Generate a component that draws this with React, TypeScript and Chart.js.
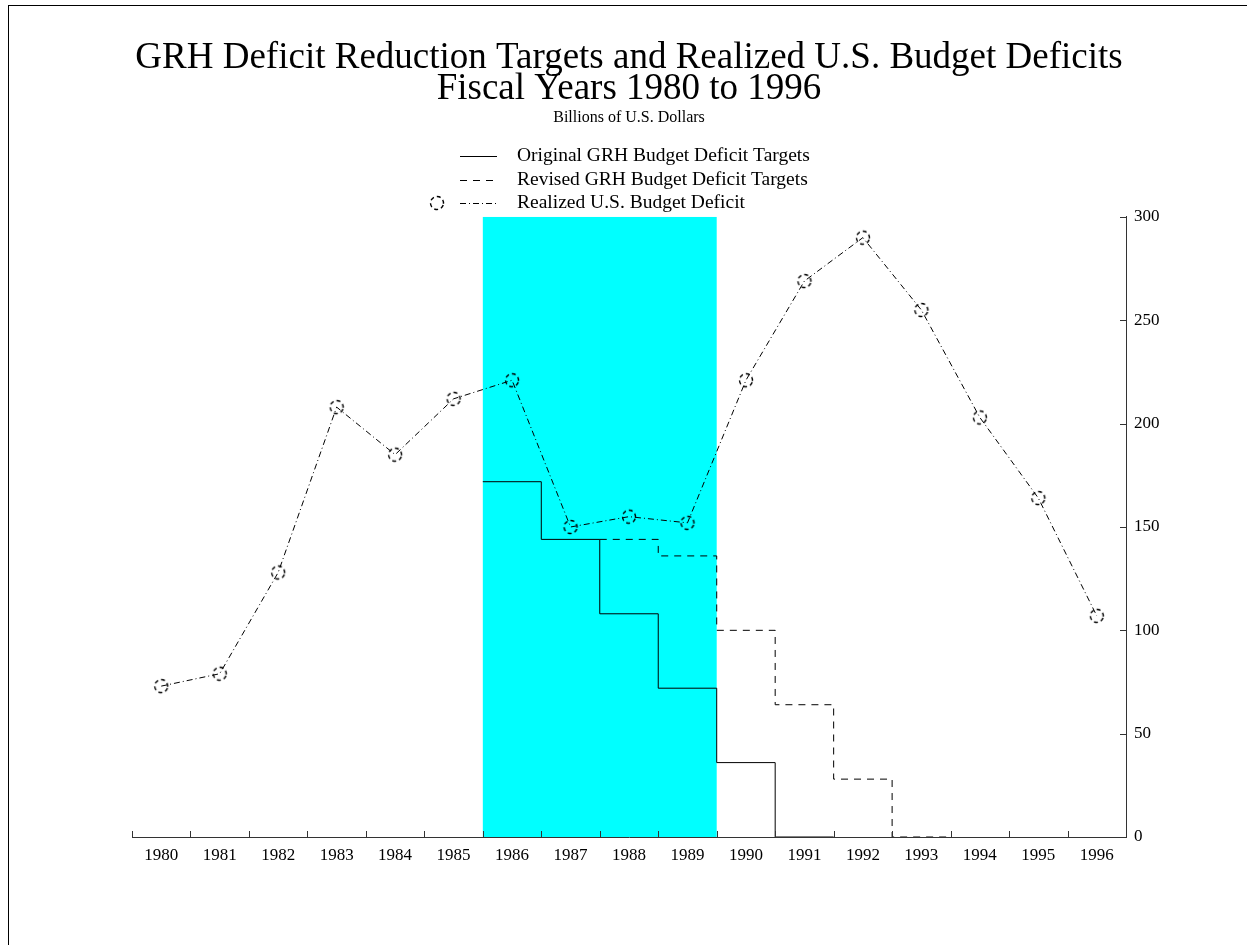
import React, { useEffect, useRef } from "react";
import { Chart, registerables } from "chart.js";

Chart.register(...registerables);

const years = ["1980", "1981", "1982", "1983", "1984", "1985", "1986", "1987", "1988", "1989", "1990", "1991", "1992", "1993", "1994", "1995", "1996"];
const realizedDeficit = [73, 79, 128, 208, 185, 212, 221, 150, 155, 152, 221, 269, 290, 255, 203, 164, 107];

const originalTargetYears = ["1986", "1987", "1988", "1989", "1990", "1991"];
const originalTargets = [171.9, 144, 108, 72, 36, 0];

const revisedTargetYears = ["1988", "1989", "1990", "1991", "1992", "1993"];
const revisedTargets = [144, 136, 100, 64, 28, 0];

const shadedYears = ["1986", "1989"];

const yTicks = [0, 50, 100, 150, 200, 250, 300];

const titleLines = ["GRH Deficit Reduction Targets and Realized U.S. Budget Deficits", "Fiscal Years 1980 to 1996"];
const subtitleText = "Billions of U.S. Dollars";
const seriesLabels = ["Original GRH Budget Deficit Targets", "Revised GRH Budget Deficit Targets", "Realized U.S. Budget Deficit"];

const SERIF = "'Liberation Serif', 'Times New Roman', serif";
const DASH_REVISED = [7, 6];
const DASH_REALIZED = [6, 3, 1, 3];

function stepPoints(ys: string[], vals: number[]) {
  const pts = ys.map((yr, i) => ({ x: years.indexOf(yr) - 0.5, y: vals[i] }));
  const last = ys.length - 1;
  pts.push({ x: years.indexOf(ys[last]) + 0.5, y: vals[last] });
  return pts;
}

function makeMarker(): HTMLCanvasElement {
  const c = document.createElement("canvas");
  c.width = 18;
  c.height = 18;
  const g = c.getContext("2d")!;
  g.strokeStyle = "#000";
  g.lineWidth = 1.4;
  g.setLineDash([4, 3]);
  g.beginPath();
  g.arc(9, 9, 6.5, 0.3, Math.PI * 2 + 0.3);
  g.stroke();
  return c;
}

export default function App() {
  const ref = useRef<HTMLCanvasElement | null>(null);

  useEffect(() => {
    const canvas = ref.current;
    if (!canvas) return;
    const marker = makeMarker();

    const shadePlugin = {
      id: "shade",
      beforeDatasetsDraw(chart: any) {
        const xs = chart.scales.xs;
        const y = chart.scales.y;
        const ctx = chart.ctx;
        const x0 = xs.getPixelForValue(years.indexOf(shadedYears[0]) - 0.5);
        const x1 = xs.getPixelForValue(years.indexOf(shadedYears[1]) + 0.5);
        const yTop = y.getPixelForValue(y.max);
        const yBot = y.getPixelForValue(y.min);
        ctx.save();
        ctx.fillStyle = "#00ffff";
        ctx.fillRect(x0, yTop, x1 - x0, yBot - yTop);
        ctx.restore();
      },
    };

    const innerTicksPlugin = {
      id: "innerTicks",
      afterDraw(chart: any) {
        const xs = chart.scales.xs;
        const y = chart.scales.y;
        const ctx = chart.ctx;
        const area = chart.chartArea;
        ctx.save();
        ctx.strokeStyle = "#333";
        ctx.lineWidth = 1;
        for (let k = 0; k <= years.length; k++) {
          const px = Math.round(xs.getPixelForValue(k - 0.5)) + 0.5;
          ctx.beginPath();
          ctx.moveTo(px, area.bottom);
          ctx.lineTo(px, area.bottom - 6);
          ctx.stroke();
        }
        yTicks.forEach((v) => {
          const py = Math.round(y.getPixelForValue(v)) + 0.5;
          ctx.beginPath();
          ctx.moveTo(area.right, py);
          ctx.lineTo(area.right - 6, py);
          ctx.stroke();
        });
        ctx.restore();
      },
    };

    const legendPlugin = {
      id: "customLegend",
      afterDraw(chart: any) {
        const ctx = chart.ctx;
        const lx0 = 460;
        const lx1 = 497;
        const tx = 517;
        const rows = [156, 180, 203];
        const dashes = [[], DASH_REVISED, DASH_REALIZED];
        ctx.save();
        ctx.font = `19.5px ${SERIF}`;
        ctx.fillStyle = "#000";
        ctx.textBaseline = "middle";
        ctx.textAlign = "left";
        rows.forEach((ry, i) => {
          ctx.strokeStyle = "#000";
          ctx.lineWidth = 1;
          ctx.setLineDash(dashes[i]);
          ctx.beginPath();
          ctx.moveTo(lx0, ry + 0.5);
          ctx.lineTo(lx1, ry + 0.5);
          ctx.stroke();
          ctx.setLineDash([]);
          ctx.fillText(seriesLabels[i], tx, ry);
        });
        ctx.drawImage(marker, 437 - 9, rows[2] - 9);
        ctx.restore();
      },
    };

    const chart = new Chart(canvas, {
      type: "line",
      data: {
        labels: years,
        datasets: [
          {
            label: seriesLabels[0],
            data: stepPoints(originalTargetYears, originalTargets) as any,
            xAxisID: "xs",
            yAxisID: "y",
            stepped: "before",
            borderColor: "#000",
            borderWidth: 1,
            pointRadius: 0,
            fill: false,
          },
          {
            label: seriesLabels[1],
            data: stepPoints(revisedTargetYears, revisedTargets) as any,
            xAxisID: "xs",
            yAxisID: "y",
            stepped: "before",
            borderColor: "#000",
            borderWidth: 1,
            borderDash: DASH_REVISED,
            pointRadius: 0,
            fill: false,
          },
          {
            label: seriesLabels[2],
            data: realizedDeficit,
            xAxisID: "x",
            yAxisID: "y",
            borderColor: "#000",
            borderWidth: 1,
            borderDash: DASH_REALIZED,
            pointStyle: marker as any,
            pointRadius: 7,
            tension: 0,
            fill: false,
          },
        ],
      },
      options: {
        animation: false,
        responsive: false,
        devicePixelRatio: 1,
        layout: { padding: { left: 132, right: 0, top: 0, bottom: 0 } },
        plugins: {
          legend: { display: false },
          tooltip: { enabled: false },
          title: {
            display: true,
            fullSize: false,
            text: titleLines,
            color: "#000",
            font: { family: SERIF, size: 37, weight: "normal", lineHeight: 0.84 },
            padding: { top: 43, bottom: 0 },
          },
          subtitle: {
            display: true,
            fullSize: false,
            text: subtitleText,
            color: "#000",
            font: { family: SERIF, size: 16, weight: "normal", lineHeight: 1.2 },
            padding: { top: 3.2, bottom: 89.4 },
          },
        },
        scales: {
          x: {
            type: "category",
            position: "bottom",
            offset: true,
            grid: { display: true, drawOnChartArea: false, drawTicks: false, offset: true },
            border: { display: true, color: "#333", width: 1 },
            ticks: { color: "#000", font: { family: SERIF, size: 17 }, padding: 8, maxRotation: 0, autoSkip: false },
            afterFit(scale: any) {
              scale.height = 108;
            },
          },
          xs: {
            type: "linear",
            display: false,
            min: -0.5,
            max: years.length - 0.5,
          },
          y: {
            type: "linear",
            position: "right",
            min: 0,
            max: 300,
            afterBuildTicks(scale: any) {
              scale.ticks = yTicks.map((v) => ({ value: v }));
            },
            grid: { display: true, drawOnChartArea: false, drawTicks: false },
            border: { display: true, color: "#333", width: 1 },
            ticks: { color: "#000", font: { family: SERIF, size: 17 }, padding: 8 },
            afterFit(scale: any) {
              scale.width = 121;
            },
          },
        },
      },
      plugins: [shadePlugin, innerTicksPlugin, legendPlugin],
    });

    return () => {
      chart.destroy();
    };
  }, []);

  return (
    <>
      <div
        style={{
          position: "fixed",
          left: 8,
          top: 5,
          width: 1400,
          height: 1100,
          borderTop: "1px solid #000",
          borderLeft: "1px solid #000",
          boxSizing: "border-box",
        }}
      />
      <canvas
        ref={ref}
        width={1247}
        height={945}
        style={{ position: "fixed", left: 0, top: 0, width: 1247, height: 945 }}
      />
    </>
  );
}
